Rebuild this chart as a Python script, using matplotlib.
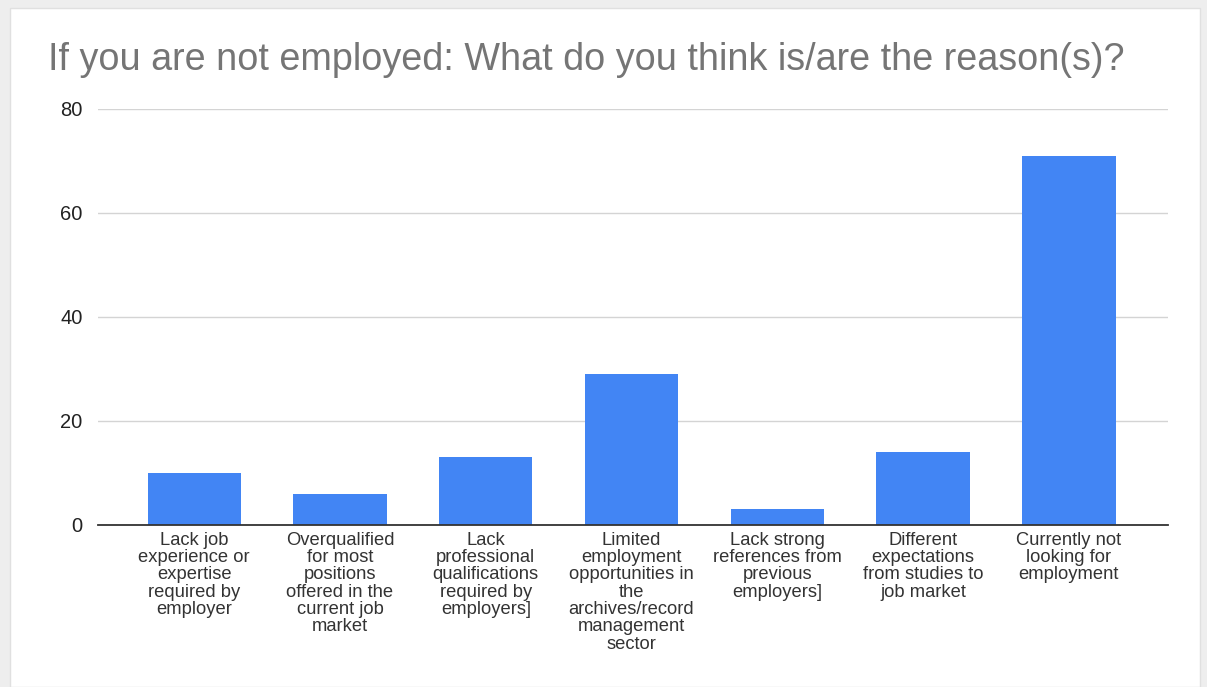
import matplotlib.pyplot as plt
from matplotlib.patches import Rectangle

reasons = [
    "Lack job\nexperience or\nexpertise\nrequired by\nemployer",
    "Overqualified\nfor most\npositions\noffered in the\ncurrent job\nmarket",
    "Lack\nprofessional\nqualifications\nrequired by\nemployers]",
    "Limited\nemployment\nopportunities in\nthe\narchives/record\nmanagement\nsector",
    "Lack strong\nreferences from\nprevious\nemployers]",
    "Different\nexpectations\nfrom studies to\njob market",
    "Currently not\nlooking for\nemployment",
]
counts = [10, 6, 13, 29, 3, 14, 71]
yticks = [0, 20, 40, 60, 80]

plt.rcParams['font.family'] = ['Liberation Sans', 'DejaVu Sans']

fig = plt.figure(figsize=(12.07, 6.87), dpi=100, facecolor='#eeeeee')
# white card inside the gray frame
fig.patches.append(Rectangle((10/1207, 0), 1190/1207, 679/687, transform=fig.transFigure,
                             facecolor='white', edgecolor='#e0e0e0', linewidth=1, zorder=-5))

ax = fig.add_axes([98/1207, 1-525/687, 1070/1207, 416/687])
ax.set_zorder(2)
ax.set_facecolor('none')
x = range(len(counts))
ax.bar(x, counts, width=0.64, color='#4285f4', zorder=3)

ax.set_xlim(-0.66, 6.68)
ax.set_ylim(0, 80)
ax.set_yticks(yticks)
ax.set_yticklabels([str(v) for v in yticks], fontsize=14.5, color='#222222')
ax.yaxis.grid(True, color='#d4d4d4', linewidth=1, zorder=0)
ax.set_xticks(list(x))
ax.set_xticklabels(reasons, fontsize=13.2, color='#333333', linespacing=1.02, va='top')
ax.tick_params(axis='both', length=0)
ax.tick_params(axis='y', pad=11)
ax.tick_params(axis='x', pad=5)
for s in ['top', 'right', 'left']:
    ax.spines[s].set_visible(False)
ax.spines['bottom'].set_color('#333333')
ax.spines['bottom'].set_linewidth(1.3)
ax.spines['bottom'].set_zorder(4)

fig.text(48/1207, 1-60/687, "If you are not employed: What do you think is/are the reason(s)?",
         fontsize=27.2, color='#757575', va='center', ha='left', zorder=3)

fig.savefig('out.png', dpi=100, facecolor=fig.get_facecolor())
